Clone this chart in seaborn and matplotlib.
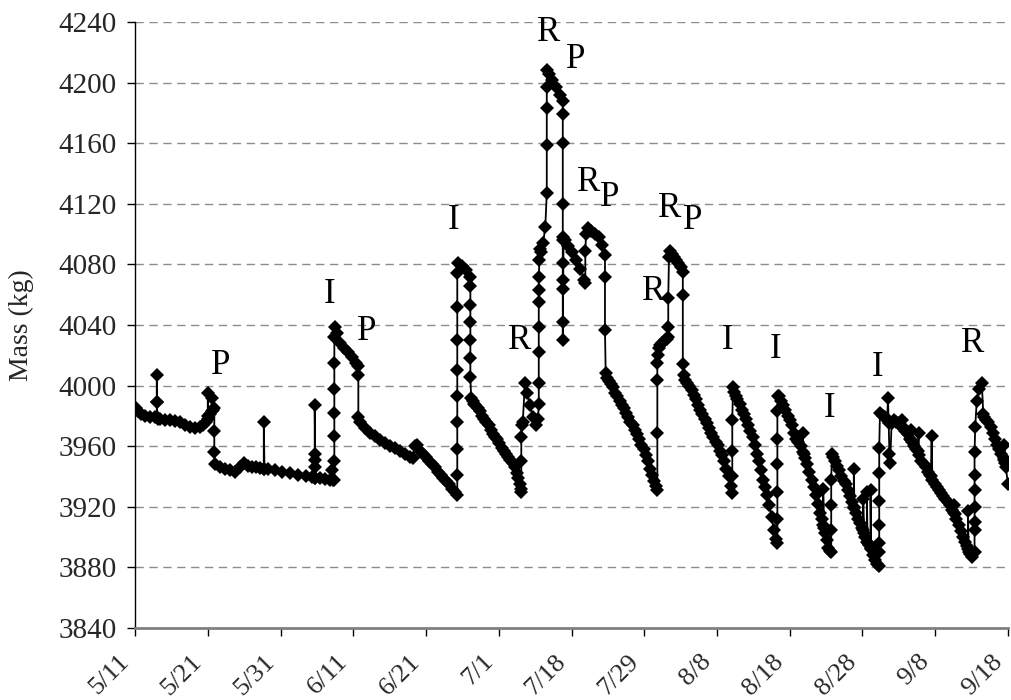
import matplotlib
matplotlib.use("Agg")
import matplotlib.pyplot as plt
import matplotlib.transforms as mtransforms
import pandas as pd
import seaborn as sns

# ---------------- data (sample index along a category axis, mass in kg) ----------------
# 5/11 - 6/11
idx_p1 = [
    1, 4, 8, 14, 21, 27, 30, 30, 30, 30,
    31, 34, 41, 48, 55, 62, 69, 76, 82, 89,
    93, 98, 100, 100, 101, 103, 106, 106, 107, 109,
    109, 109, 110, 117, 124, 131, 137, 144, 150, 155,
    161, 166, 172, 177, 177, 178, 183, 192, 202, 213,
    224, 235, 243, 247, 247, 247, 247, 247, 248, 254,
    261, 268, 271, 272, 274, 274, 274, 274, 274, 274,
    274, 275,
]
mass_p1 = [
    3985, 3983, 3981, 3980, 3979.5, 3979, 3979, 3989, 4007, 3989,
    3978, 3978, 3977.5, 3977, 3976.5, 3976, 3974, 3973, 3972, 3973,
    3974, 3976, 3978, 3995, 3980, 3981, 3983, 3992, 3984, 3985,
    3970, 3956, 3948, 3946, 3945, 3944, 3943, 3946, 3949, 3947,
    3946, 3946, 3945.5, 3945, 3976, 3945, 3945, 3944, 3943, 3942,
    3941, 3940, 3939.5, 3939, 3946, 3951, 3955, 3987, 3939, 3939,
    3938.5, 3938, 3944, 3938, 3938, 3950, 3967, 3982, 3998, 4015,
    4032, 4039,
]
# 6/11 - 7/1
idx_p2 = [
    278, 282, 287, 293, 298, 304, 307, 307, 307, 309,
    316, 323, 330, 337, 344, 351, 357, 364, 371, 378,
    382, 385, 388, 392, 396, 400, 404, 408, 412, 416,
    420, 424, 428, 432, 436, 440, 443, 443, 443, 443,
    443, 443, 443, 443, 443, 444, 449, 455, 461, 461,
    461, 461, 461, 461, 461, 462, 464, 466, 468, 471,
    474, 477, 480, 483, 486, 489, 492, 495, 498, 501,
    504, 507, 510, 513, 516, 519, 522, 525, 527, 529,
    530, 531,
]
mass_p2 = [
    4035, 4028, 4025, 4022, 4019, 4015, 4013, 4007, 3979, 3976,
    3972, 3969, 3967, 3964, 3962, 3960, 3959, 3957, 3955, 3953,
    3952, 3960, 3961, 3957, 3955, 3953, 3950, 3948, 3946, 3943,
    3941, 3939, 3937, 3935, 3932, 3930, 3928, 3941, 3958, 3976,
    3993, 4010, 4030, 4052, 4074, 4081, 4079, 4076, 4072, 4066,
    4053, 4042, 4030, 4018, 4006, 3992, 3990, 3988, 3987, 3985,
    3983, 3980, 3978, 3976, 3974, 3971, 3968, 3966, 3965, 3962,
    3959, 3957, 3955, 3953, 3951, 3949, 3946, 3942, 3939, 3935,
    3932, 3930,
]
# 7/1 - 7/18
idx_p3 = [
    531, 531, 532, 533, 536, 539, 543, 547, 551, 554,
    555, 555, 555, 555, 555, 555, 555, 556, 557, 558,
    561, 564, 566, 566, 566, 566, 567, 569, 573, 579,
    584, 588, 588, 588, 588, 588, 588, 588, 588, 588,
    588, 589, 591, 595, 601, 606, 612, 617, 619, 619,
    620, 623, 627, 632, 638, 642, 646, 646, 646,
]
mass_p3 = [
    3950, 3966, 3974, 3976, 4002, 3995, 3987, 3979, 3974, 3978,
    3988, 4002, 4022, 4039, 4055, 4063, 4072, 4083, 4090, 4088,
    4094, 4105, 4127, 4159, 4183, 4197, 4208, 4206, 4202, 4197,
    4192, 4188, 4179, 4160, 4120, 4098, 4081, 4070, 4064, 4042,
    4030, 4096, 4096, 4092, 4088, 4083, 4077, 4070, 4068, 4089,
    4100, 4104, 4102, 4100, 4098, 4093, 4086, 4072, 4037,
]
# 7/18 - 8/8
idx_p4 = [
    647, 649, 651, 654, 657, 660, 663, 666, 669, 672,
    675, 678, 681, 684, 687, 690, 693, 696, 699, 702,
    705, 708, 711, 714, 716, 718, 718, 718, 718, 719,
    720, 722, 725, 728, 731, 733, 733, 733, 734, 735,
    738, 741, 744, 747, 750, 753, 753, 753, 754, 756,
    759, 762, 765, 768, 771, 774, 777, 780, 783, 786,
    789, 792, 795, 798, 801, 804, 807, 810, 813, 816,
    819, 821, 821, 821, 821, 822,
]
mass_p4 = [
    4008, 4005, 4003, 4001, 3999, 3995, 3993, 3990, 3987, 3985,
    3982, 3979, 3976, 3974, 3971, 3968, 3965, 3961, 3958, 3954,
    3950, 3945, 3941, 3937, 3934, 3931, 3969, 4004, 4015, 4020,
    4025, 4027, 4028, 4030, 4031, 4032, 4039, 4058, 4085, 4089,
    4087, 4085, 4083, 4081, 4078, 4075, 4060, 4014, 4007, 4004,
    4002, 4000, 3997, 3994, 3991, 3987, 3984, 3981, 3978, 3975,
    3972, 3969, 3966, 3963, 3961, 3957, 3954, 3950, 3945, 3940,
    3934, 3929, 3940, 3957, 3977, 3999,
]
# 8/8 - 8/28
idx_p5 = [
    824, 826, 828, 831, 834, 837, 840, 843, 846, 849,
    852, 855, 858, 861, 863, 866, 869, 872, 875, 878,
    881, 883, 883, 883, 883, 883, 883, 884, 885, 888,
    891, 894, 897, 900, 903, 906, 909, 912, 915, 918,
    918, 919, 921, 924, 927, 930, 933, 936, 939, 942,
    944, 946, 946, 947, 949, 951, 953, 955, 957, 957,
    957, 957, 958, 959, 962, 965, 968, 971, 974, 977,
    980, 983, 986, 988, 988, 989, 991, 994, 997, 1000,
    1001, 1001, 1002, 1003, 1006, 1006, 1007, 1009, 1011, 1011,
    1012, 1014, 1017, 1020, 1023, 1023, 1023, 1023, 1023, 1023,
    1023, 1024,
]
mass_p5 = [
    3996, 3993, 3991, 3988, 3984, 3981, 3978, 3974, 3970, 3966,
    3961, 3955, 3950, 3944, 3938, 3933, 3928, 3921, 3913, 3905,
    3899, 3896, 3912, 3930, 3948, 3965, 3983, 3993, 3993, 3990,
    3987, 3984, 3980, 3977, 3974, 3969, 3965, 3963, 3960, 3956,
    3969, 3955, 3952, 3948, 3943, 3938, 3933, 3928, 3922, 3916,
    3912, 3908, 3932, 3906, 3903, 3898, 3893, 3891, 3890, 3905,
    3921, 3938, 3955, 3953, 3950, 3947, 3944, 3940, 3937, 3935,
    3931, 3927, 3923, 3920, 3945, 3919, 3916, 3912, 3909, 3906,
    3905, 3925, 3903, 3900, 3897, 3930, 3896, 3895, 3893, 3931,
    3892, 3888, 3885, 3882, 3881, 3890, 3896, 3908, 3924, 3942,
    3959, 3982,
]
# 8/28 - 9/18
idx_p6 = [
    1028, 1031, 1034, 1035, 1036, 1037, 1038, 1040, 1043, 1046,
    1049, 1052, 1054, 1055, 1056, 1059, 1062, 1065, 1066, 1067,
    1068, 1071, 1074, 1076, 1077, 1078, 1081, 1084, 1087, 1090,
    1093, 1094, 1095, 1096, 1099, 1102, 1105, 1108, 1111, 1114,
    1117, 1120, 1123, 1126, 1126, 1127, 1129, 1132, 1135, 1138,
    1141, 1143, 1145, 1145, 1146, 1148, 1151, 1154, 1154, 1154,
    1154, 1154, 1154, 1154, 1155, 1157, 1160, 1164, 1166, 1167,
    1170, 1173, 1176, 1179, 1182, 1185, 1188, 1191, 1194, 1195,
    1195, 1196, 1197, 1200,
]
mass_p6 = [
    3980, 3979, 3978, 3992, 3975, 3955, 3949, 3975, 3977, 3976,
    3975, 3974, 3977, 3973, 3972, 3970, 3968, 3965, 3971, 3964,
    3963, 3960, 3958, 3957, 3969, 3954, 3950, 3948, 3946, 3943,
    3941, 3940, 3967, 3938, 3935, 3933, 3931, 3929, 3927, 3925,
    3923, 3921, 3918, 3916, 3921, 3915, 3912, 3908, 3904, 3900,
    3897, 3894, 3892, 3917, 3890, 3889, 3887, 3890, 3905, 3910,
    3920, 3931, 3941, 3956, 3973, 3990, 3998, 4002, 3981, 3979,
    3977, 3976, 3973, 3969, 3965, 3961, 3958, 3955, 3952, 3951,
    3961, 3949, 3946, 3935,
]

tick_samples = [0, 100, 200, 300, 400, 500, 600, 700, 800, 900, 1000, 1100, 1200]
date_labels = ["5/11", "5/21", "5/31", "6/11", "6/21", "7/1", "7/18", "7/29",
               "8/8", "8/18", "8/28", "9/8", "9/18"]
mass_ticks = [3840, 3880, 3920, 3960, 4000, 4040, 4080, 4120, 4160, 4200, 4240]

event_text = ["P", "I", "P", "I", "R", "R", "P", "R", "P", "R", "R", "P",
              "I", "I", "I", "I", "R"]
event_x = [118, 268, 319, 438, 529, 568, 606, 623, 653, 713, 735, 766,
           815, 880, 955, 1021, 1152]
event_y = [4013, 4060, 4036, 4109, 4030, 4233, 4215, 4134, 4124, 4062, 4117, 4109,
           4030, 4024, 3985, 4012, 4028]

# ---------------- plotting ----------------
sns.set_style("white")
plt.rcParams["font.family"] = ["Liberation Serif", "DejaVu Serif"]

fig = plt.figure(figsize=(10.12, 7.0), dpi=100)
ax = fig.add_axes([135 / 1012, 72 / 700, 873 / 1012, 606 / 700])

df = pd.DataFrame({
    "sample": idx_p1 + idx_p2 + idx_p3 + idx_p4 + idx_p5 + idx_p6,
    "mass": mass_p1 + mass_p2 + mass_p3 + mass_p4 + mass_p5 + mass_p6,
})
sns.lineplot(data=df, x="sample", y="mass", sort=False, estimator=None,
             color="black", linewidth=1.3, marker="D", markersize=7.5,
             markeredgewidth=0, markerfacecolor="black", ax=ax, zorder=3)

ax.set_xlim(0, 1200)
ax.set_ylim(3840, 4240)
ax.set_yticks(mass_ticks)
ax.set_yticklabels([str(v) for v in mass_ticks])
ax.set_xticks(tick_samples)

ax.yaxis.grid(True, color="#8c8c8c", linestyle=(0, (6, 4)), linewidth=1)
ax.xaxis.grid(False)
ax.set_axisbelow(True)

for s in ["top", "right"]:
    ax.spines[s].set_visible(False)
ax.spines["left"].set_color("black")
ax.spines["left"].set_linewidth(1)
ax.spines["bottom"].set_color("#808080")
ax.spines["bottom"].set_linewidth(2)

ax.tick_params(axis="y", direction="out", length=6, width=1, color="black",
               labelsize=21, pad=7, left=True)
ax.tick_params(axis="x", direction="out", length=6, width=1, color="black",
               labelsize=19, pad=8, bottom=True)

ax.set_xticklabels(date_labels, rotation=45, ha="right", rotation_mode="anchor")
shift = mtransforms.ScaledTranslation(-0.17, -0.03, fig.dpi_scale_trans)
for lab in ax.get_xticklabels():
    lab.set_transform(lab.get_transform() + shift)

ax.set_xlabel("")
ax.set_ylabel("Mass (kg)", fontsize=20, labelpad=18)

for t, xv, yv in zip(event_text, event_x, event_y):
    ax.text(xv, yv, t, fontsize=25, ha="center", va="center", color="black", zorder=4)

fig.savefig("out.png", dpi=100)
